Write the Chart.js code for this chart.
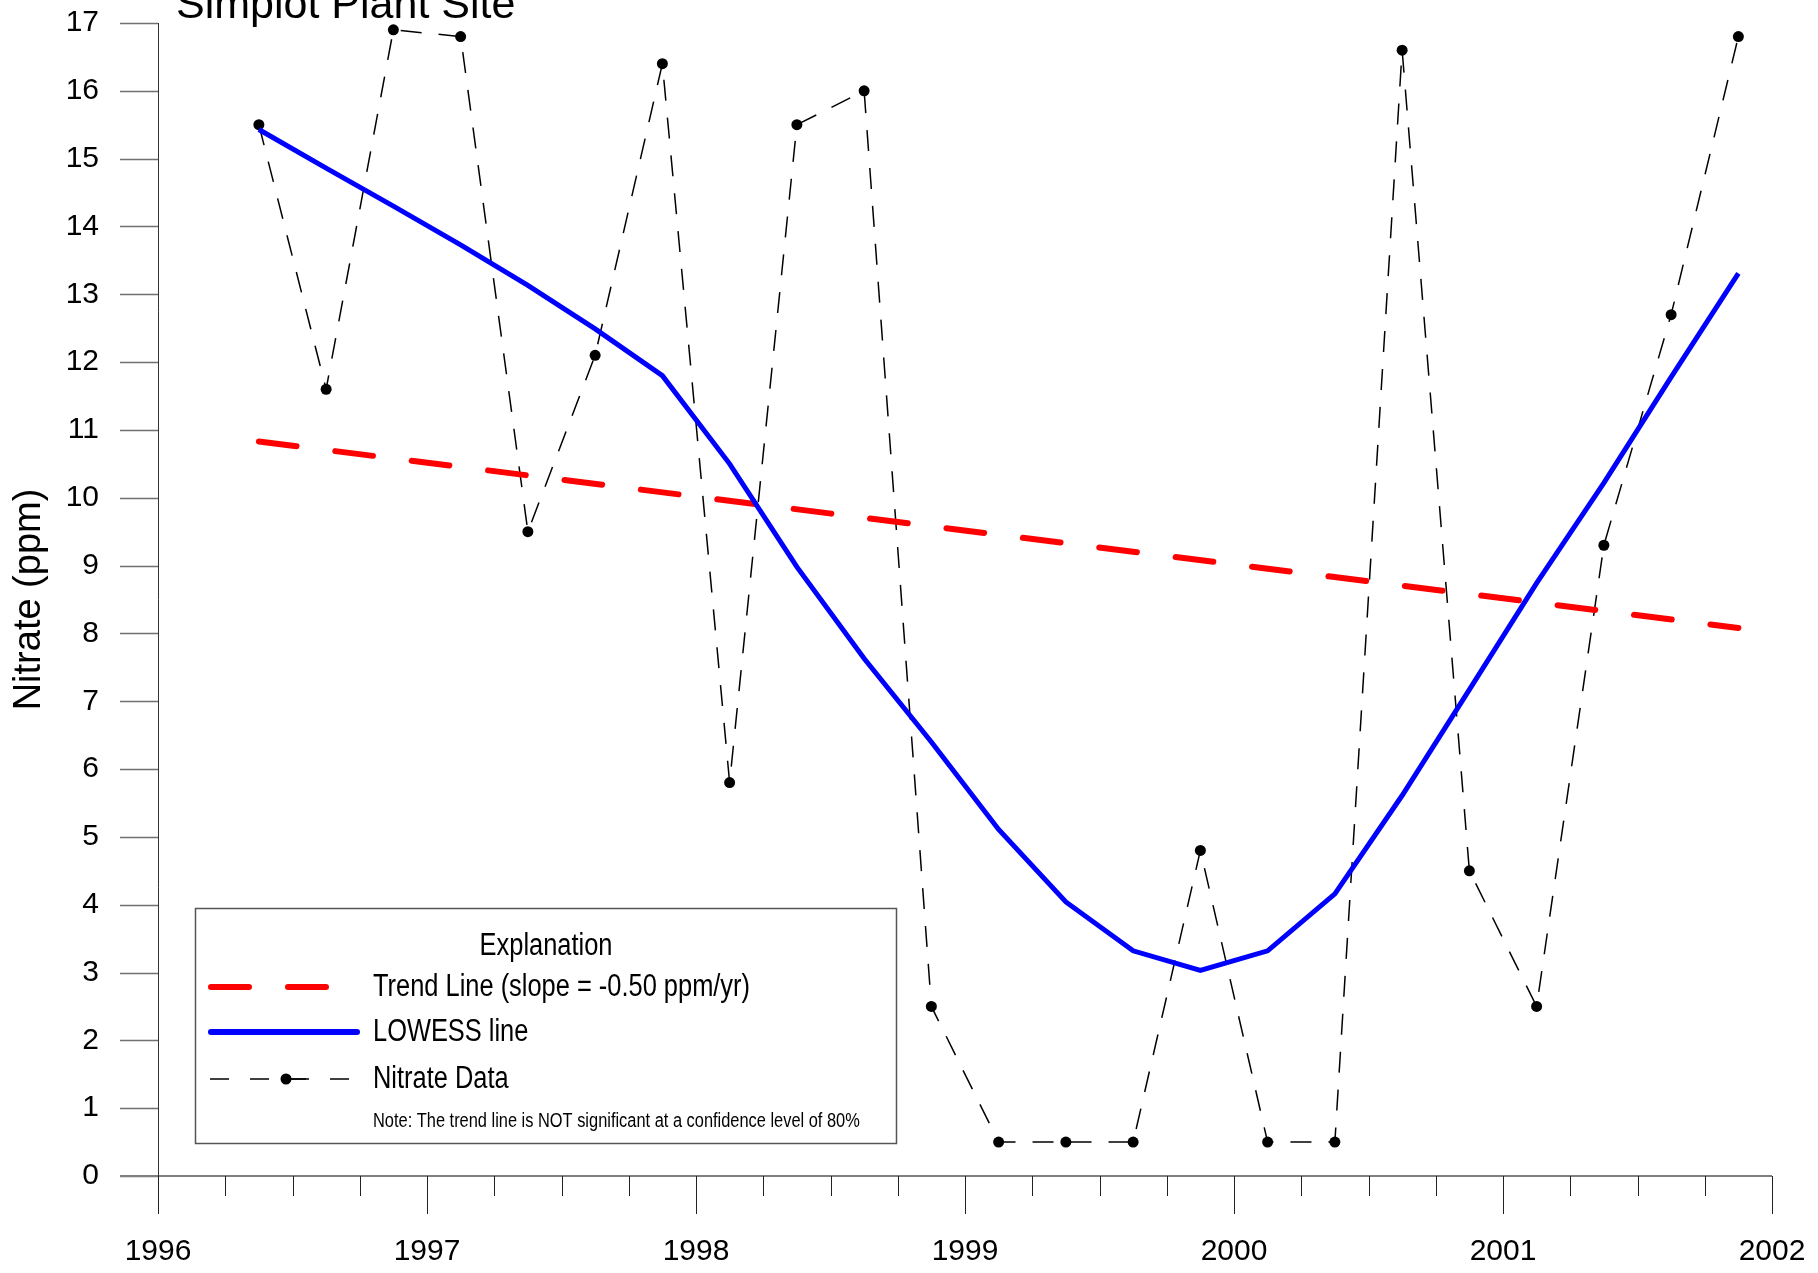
<!DOCTYPE html>
<html>
<head>
<meta charset="utf-8">
<script src="https://cdn.jsdelivr.net/npm/chart.js@4.4.1/dist/chart.umd.min.js"></script>
<style>
  html, body { margin: 0; padding: 0; background: #fff; }
  #wrap { width: 1818px; height: 1273px; position: relative; }
</style>
</head>
<body>
<div id="wrap"><canvas id="nitrateChart"></canvas></div>
<script>
// sample dates as decimal years
const sampleDates = [1996.375, 1996.625, 1996.875, 1997.125, 1997.375, 1997.625, 1997.875,
  1998.125, 1998.375, 1998.625, 1998.875, 1999.125, 1999.375, 1999.625, 1999.875,
  2000.125, 2000.375, 2000.625, 2000.875, 2001.125, 2001.375, 2001.625, 2001.875];
const nitrateValues = [15.5, 11.6, 16.9, 16.8, 9.5, 12.1, 16.4, 5.8, 15.5, 16.0, 2.5, 0.5,
  0.5, 0.5, 4.8, 0.5, 0.5, 16.6, 4.5, 2.5, 9.3, 12.7, 16.8];
const lowessValues = [15.43, 14.86, 14.3, 13.73, 13.13, 12.49, 11.8, 10.5, 8.98, 7.63, 6.4,
  5.11, 4.04, 3.32, 3.03, 3.32, 4.16, 5.61, 7.17, 8.74, 10.22, 11.78, 13.31];
const trendDates = [1996.375, 2001.875];
const trendValues = [10.83, 8.08];
const yearTicks = [1996, 1997, 1998, 1999, 2000, 2001, 2002];

const chartTitle = 'Simplot Plant Site';
const legendTitle = 'Explanation';
const legendItems = ['Trend Line (slope = -0.50 ppm/yr)', 'LOWESS line', 'Nitrate Data'];
const legendNote = 'Note: The trend line is NOT significant at a confidence level of 80%';

const FONT = '"Liberation Sans", Arial, sans-serif';

function pairs(xs, ys) {
  return xs.map((v, i) => ({x: v, y: ys[i]}));
}

function narrowText(ctx, text, x, y, size, align) {
  ctx.save();
  ctx.font = size + 'px ' + FONT;
  ctx.textBaseline = 'middle';
  ctx.textAlign = align || 'left';
  ctx.translate(x, y);
  ctx.scale(0.82, 1);
  ctx.fillText(text, 0, 0);
  ctx.restore();
}

// axis lines, tick marks, title and the explanation box
const decor = {
  id: 'decor',
  afterDraw(chart) {
    const ctx = chart.ctx;
    const xs = chart.scales.x, ys = chart.scales.y;
    const left = xs.left, bottom = ys.bottom;

    ctx.save();
    // y ticks
    ctx.strokeStyle = '#707070';
    ctx.lineWidth = 1.5;
    for (let v = 0; v <= 17; v++) {
      const py = Math.round(ys.getPixelForValue(v)) + 0.5;
      ctx.beginPath();
      ctx.moveTo(left - 38, py);
      ctx.lineTo(left, py);
      ctx.stroke();
    }
    // x axis line
    ctx.strokeStyle = '#808080';
    ctx.lineWidth = 2;
    ctx.beginPath();
    ctx.moveTo(left - 38, bottom);
    ctx.lineTo(xs.right, bottom);
    ctx.stroke();
    // y axis line
    ctx.strokeStyle = '#333';
    ctx.lineWidth = 1;
    ctx.beginPath();
    ctx.moveTo(left + 0.5, ys.getPixelForValue(17));
    ctx.lineTo(left + 0.5, bottom);
    ctx.stroke();
    // x ticks: years long, quarters short
    ctx.strokeStyle = '#222';
    for (let q = 0; q <= 24; q++) {
      const px = Math.round(xs.getPixelForValue(1996 + q / 4)) + 0.5;
      const len = q % 4 === 0 ? 38 : 20;
      ctx.beginPath();
      ctx.moveTo(px, bottom);
      ctx.lineTo(px, bottom + len);
      ctx.stroke();
    }

    // title
    ctx.fillStyle = '#000';
    ctx.font = '43px ' + FONT;
    ctx.textAlign = 'left';
    ctx.textBaseline = 'alphabetic';
    ctx.fillText(chartTitle, 176, 18);

    // explanation box
    ctx.fillStyle = '#fff';
    ctx.fillRect(195, 908, 701, 235);
    ctx.strokeStyle = '#555';
    ctx.lineWidth = 1.5;
    ctx.strokeRect(195.5, 908.5, 701, 235);

    ctx.fillStyle = '#000';
    narrowText(ctx, legendTitle, 546, 946, 31, 'center');

    ctx.lineCap = 'round';
    ctx.strokeStyle = '#ff0000';
    ctx.lineWidth = 6;
    ctx.setLineDash([38, 39]);
    ctx.beginPath();
    ctx.moveTo(211, 987);
    ctx.lineTo(328, 987);
    ctx.stroke();

    ctx.strokeStyle = '#0000ff';
    ctx.setLineDash([]);
    ctx.beginPath();
    ctx.moveTo(211, 1032);
    ctx.lineTo(357, 1032);
    ctx.stroke();

    ctx.lineCap = 'butt';
    ctx.strokeStyle = '#000';
    ctx.lineWidth = 1.5;
    ctx.setLineDash([19, 21]);
    ctx.beginPath();
    ctx.moveTo(210, 1079);
    ctx.lineTo(350, 1079);
    ctx.stroke();
    ctx.setLineDash([]);
    ctx.beginPath();
    ctx.moveTo(286, 1079);
    ctx.lineTo(306, 1079);
    ctx.stroke();
    ctx.beginPath();
    ctx.arc(286, 1079, 5.5, 0, Math.PI * 2);
    ctx.fill();

    narrowText(ctx, legendItems[0], 373, 987, 31);
    narrowText(ctx, legendItems[1], 373, 1032, 31);
    narrowText(ctx, legendItems[2], 373, 1079, 31);
    narrowText(ctx, legendNote, 373, 1121, 20);
    ctx.restore();
  }
};

const chart = new Chart(document.getElementById('nitrateChart'), {
  type: 'line',
  data: {
    datasets: [{
      label: 'LOWESS line',
      data: pairs(sampleDates, lowessValues),
      borderColor: '#0000ff',
      borderWidth: 5,
      pointRadius: 0,
      tension: 0,
      clip: false
    }, {
      label: 'Trend Line',
      data: pairs(trendDates, trendValues),
      borderColor: '#ff0000',
      borderWidth: 6,
      borderDash: [38, 39],
      borderCapStyle: 'round',
      pointRadius: 0,
      clip: false
    }, {
      label: 'Nitrate Data',
      data: pairs(sampleDates, nitrateValues),
      borderColor: '#000',
      borderWidth: 1.5,
      borderDash: [21, 17],
      pointRadius: 5.5,
      pointBackgroundColor: '#000',
      pointBorderWidth: 0,
      tension: 0,
      clip: false
    }]
  },
  options: {
    responsive: true,
    maintainAspectRatio: false,
    animation: false,
    devicePixelRatio: 1,
    layout: { padding: { top: 23, right: 46, left: 0, bottom: 0 } },
    plugins: { legend: { display: false }, tooltip: { enabled: false } },
    scales: {
      x: {
        type: 'linear',
        min: 1996,
        max: 2002,
        afterBuildTicks(scale) { scale.ticks = yearTicks.map(v => ({value: v})); },
        afterFit(scale) {
          scale.height = 97;
          scale.paddingLeft = 0;
          scale.paddingRight = 0;
        },
        grid: { display: false, drawTicks: false },
        border: { display: false },
        ticks: {
          padding: 58,
          color: '#000',
          font: { family: FONT, size: 30 },
          callback: v => String(v)
        }
      },
      y: {
        min: 0,
        max: 17,
        afterFit(scale) {
          scale.width = 158;
          scale.paddingTop = 0;
          scale.paddingBottom = 0;
        },
        grid: { display: false, drawTicks: false },
        border: { display: false },
        ticks: {
          stepSize: 1,
          padding: 59,
          color: '#000',
          font: { family: FONT, size: 30 }
        },
        title: {
          display: true,
          text: 'Nitrate (ppm)',
          color: '#000',
          font: { family: FONT, size: 38 },
          padding: { top: 7, bottom: 0 }
        }
      }
    }
  },
  plugins: [decor]
});
</script>
</body>
</html>
